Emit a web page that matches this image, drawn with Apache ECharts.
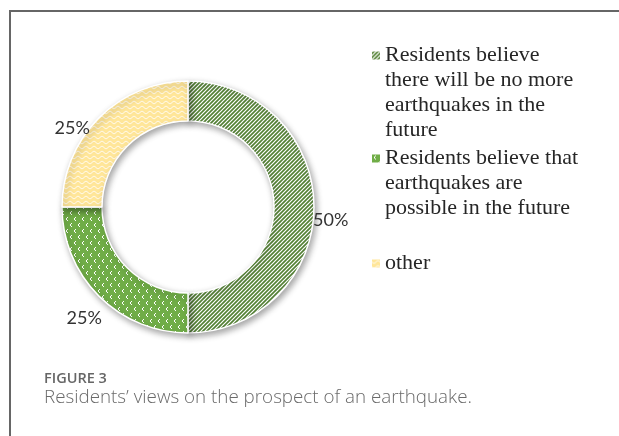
<!DOCTYPE html>
<html><head><meta charset="utf-8">
<script src="https://cdn.jsdelivr.net/npm/echarts@6/dist/echarts.min.js"></script>
<style>html,body{margin:0;padding:0;background:#fff}#c{width:619px;height:436px}</style>
</head><body><div id="c"></div>
<script>
// ---- data ----
const categories = [
  'Residents believe there will be no more earthquakes in the future',
  'Residents believe that earthquakes are possible in the future',
  'other'
];
const values = [50, 25, 25];
const legendLabels = [
  'Residents believe\nthere will be no more\nearthquakes in the\nfuture',
  'Residents believe that\nearthquakes are\npossible in the future',
  'other'
];
const figureLabel = 'FIGURE 3';
const captionText = 'Residents\u2019 views on the prospect of an earthquake.';

// ---- pattern tiles ----
function makeTile(w, h, bg, draw) {
  const c = document.createElement('canvas');
  c.width = w; c.height = h;
  const g = c.getContext('2d');
  g.fillStyle = bg; g.fillRect(0, 0, w, h);
  g.fillStyle = '#fff'; g.strokeStyle = '#fff';
  draw(g);
  return c;
}
const stripeTile = makeTile(4, 4, '#548235', g => {
  g.lineWidth = 1.2;
  g.beginPath();
  g.moveTo(-1, 5); g.lineTo(5, -1);
  g.moveTo(-1, 1); g.lineTo(1, -1);
  g.moveTo(3, 5); g.lineTo(5, 3);
  g.stroke();
});
const chevronTile = makeTile(8, 12, '#70AD47', g => {
  const pts = [[2,0],[1,1],[1,2],[2,3]];
  pts.forEach(p => g.fillRect(p[0] + 1, p[1] + 1, 1, 1));
  pts.forEach(p => g.fillRect(p[0] + 5, p[1] + 7, 1, 1));
});
const waveTile = makeTile(8, 5, '#FFE699', g => {
  g.lineWidth = 1;
  g.beginPath();
  for (let x = -1; x <= 9; x += 0.5) {
    const y = 2.5 + 1.2 * Math.sin(2 * Math.PI * x / 8);
    if (x === -1) g.moveTo(x, y); else g.lineTo(x, y);
  }
  g.stroke();
});
const fills = [
  { image: stripeTile, repeat: 'repeat' },
  { image: chevronTile, repeat: 'repeat' },
  { image: waveTile, repeat: 'repeat' }
];

const labelNudge = [[-6, 13], [8, 22], [-4, 10]];
const legendTops = [43, 146, 251];
const LH = 25;

function lineCount(s) { return s.split('\n').length; }
function iconFor(n) {
  const H = 8 + LH * (n - 1);
  return { h: H, path: 'path://M0,0H8V8H0Z M0,' + (H - 0.01) + 'H0.01V' + H + 'H0Z' };
}

const chart = echarts.init(document.getElementById('c'), null, { renderer: 'canvas' });
chart.setOption({
  animation: false,
  backgroundColor: '#fff',
  graphic: [
    { type: 'rect', z: -10, shape: { x: 10, y: 11, width: 800, height: 600 },
      style: { fill: 'none', stroke: '#666', lineWidth: 2 } },
    { type: 'text', x: 44, y: 379,
      style: { text: figureLabel, font: '600 14.5px "Open Sans"', fill: '#666', verticalAlign: 'middle' } },
    { type: 'text', x: 44, y: 398,
      style: { text: captionText, font: '300 18.8px "Open Sans"', fill: '#6a6a6a', verticalAlign: 'middle' } }
  ],
  legend: categories.map((name, i) => {
    const ic = iconFor(lineCount(legendLabels[i]));
    return {
      data: [{ name: name, icon: ic.path }],
      orient: 'vertical', left: 372, top: legendTops[i], padding: 0,
      itemWidth: 8, itemHeight: ic.h, symbolKeepAspect: false, selectedMode: false,
      itemStyle: { borderWidth: 0, shadowBlur: 0, shadowOffsetX: 0, shadowOffsetY: 0 },
      formatter: () => legendLabels[i],
      textStyle: { fontFamily: '"Liberation Serif"', fontSize: 22, lineHeight: LH, color: '#262626' }
    };
  }),
  series: [{
    type: 'pie',
    center: [188, 207],
    radius: [86, 126],
    startAngle: 90,
    clockwise: true,
    avoidLabelOverlap: false,
    data: categories.map((name, i) => ({
      name: name, value: values[i],
      itemStyle: { color: fills[i] }
    })),
    itemStyle: {
      borderColor: '#fff', borderWidth: 1.5,
      shadowBlur: 6, shadowColor: 'rgba(0,0,0,0.35)', shadowOffsetX: 2, shadowOffsetY: 3
    },
    label: {
      show: true, position: 'outside',
      formatter: p => p.value + '%',
      fontFamily: 'Lato', fontSize: 18, color: '#333'
    },
    labelLine: { show: false, length: 0, length2: 0 },
    labelLayout: p => ({ dx: labelNudge[p.dataIndex][0], dy: labelNudge[p.dataIndex][1] }),
    emphasis: { disabled: true }
  }]
});
</script></body></html>
